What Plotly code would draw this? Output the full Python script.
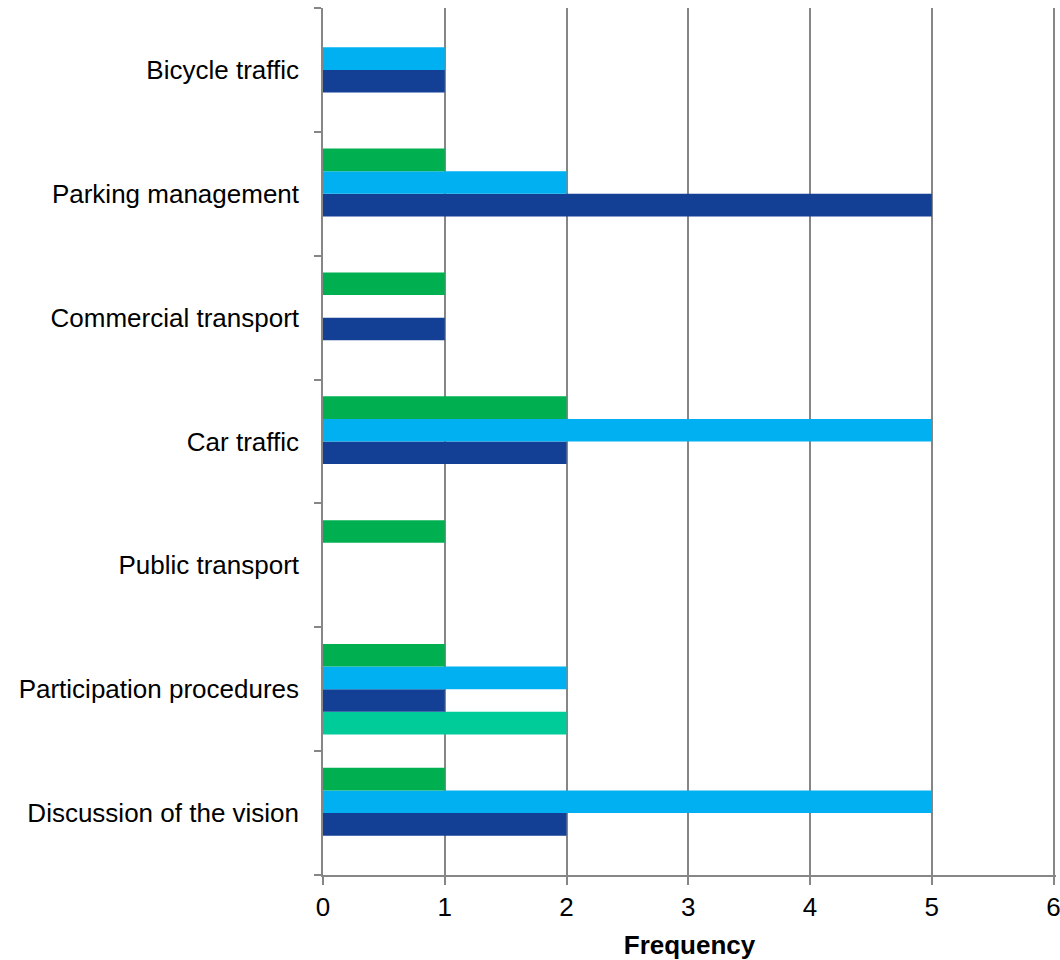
import plotly.graph_objects as go

categories = ["Discussion of the vision", "Participation procedures", "Public transport",
              "Car traffic", "Commercial transport", "Parking management", "Bicycle traffic"]

# series ordered bottom-to-top within each group
teal_vals = [0, 2, 0, 0, 0, 0, 0]
darkblue_vals = [2, 1, 0, 2, 1, 5, 1]
lightblue_vals = [5, 2, 0, 5, 0, 2, 1]
green_vals = [1, 1, 1, 2, 1, 1, 0]

series = [
    ("Series 4", teal_vals, "#00CC99"),
    ("Series 3", darkblue_vals, "#133F95"),
    ("Series 2", lightblue_vals, "#00B0F0"),
    ("Series 1", green_vals, "#00AF50"),
]

x_ticks = [0, 1, 2, 3, 4, 5, 6]

fig = go.Figure()
for name, vals, color in series:
    fig.add_trace(go.Bar(
        y=categories, x=vals, name=name, orientation="h",
        marker=dict(color=color, line=dict(width=0)),
    ))

FS = 26
fig.update_layout(
    barmode="group",
    bargap=0.27,
    bargroupgap=0,
    width=1060, height=960,
    margin=dict(l=323, r=4, t=8, b=85),
    plot_bgcolor="white", paper_bgcolor="white",
    showlegend=False,
    font=dict(family="Liberation Sans, Arial, sans-serif", size=FS, color="#000000"),
)
fig.update_xaxes(
    range=[0, 6.02], tickvals=x_ticks, ticktext=[str(t) for t in x_ticks],
    showgrid=True, gridcolor="#868686", gridwidth=1.5,
    showline=True, linecolor="#868686", linewidth=1.5,
    ticks="outside", ticklen=8, tickcolor="#868686", tickwidth=1.5,
    zeroline=False, automargin=False, ticklabeloverflow="allow",
    title=dict(text="<b>Frequency</b>", font=dict(size=26), standoff=17),
    tickfont=dict(size=FS),
)
fig.update_yaxes(
    type="category", categoryorder="array", categoryarray=categories,
    showgrid=False, showline=True, linecolor="#868686", linewidth=1.5,
    ticks="outside", tickson="boundaries", ticklen=7, tickcolor="#868686", tickwidth=1.5,
    tickfont=dict(size=FS), ticklabelstandoff=17, automargin=False,
)

fig.write_html(
    "out.html",
    config={"displayModeBar": False},
    post_script="document.body.style.margin='0';document.body.style.overflow='hidden';",
)
